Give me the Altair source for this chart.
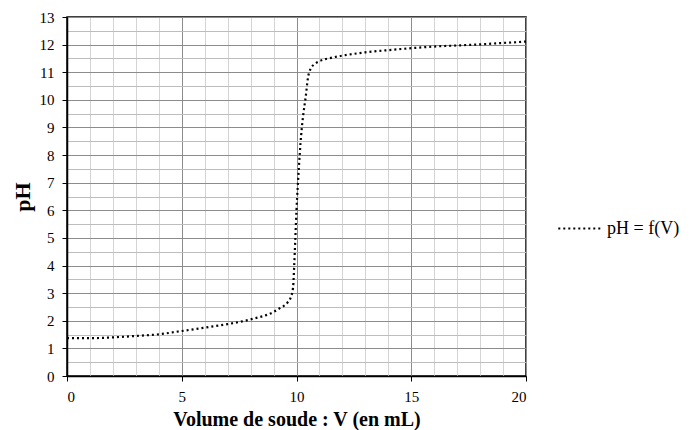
import altair as alt
import pandas as pd

volume = [0, 1, 2, 3, 4, 5, 6, 7, 8, 9, 9.3, 9.6, 9.75, 9.85, 9.9, 9.95, 10.0,
          10.1, 10.2, 10.3, 10.4, 10.5, 10.6, 10.8, 11, 11.5, 12, 13, 14, 15,
          16, 17, 18, 19, 20]
ph = [1.37, 1.37, 1.40, 1.45, 1.51, 1.63, 1.75, 1.88, 2.05, 2.32, 2.47, 2.65, 2.85,
      3.2, 4.0, 5.0, 6.0, 7.5, 8.7, 9.5, 10.1, 10.8, 11.1, 11.3, 11.4, 11.52,
      11.6, 11.72, 11.8, 11.87, 11.93, 11.97, 12.01, 12.06, 12.11]
series = ["pH = f(V)"] * len(volume)

x_ticks = list(range(0, 21))
y_ticks = [i * 0.5 for i in range(0, 27)]

df = pd.DataFrame({"V": volume, "pH": ph, "s": series})

FONT = "Liberation Serif"

chart = alt.Chart(df).mark_line(
    strokeDash=[2, 3], strokeWidth=2.2, interpolate="monotone"
).encode(
    x=alt.X("V:Q", scale=alt.Scale(domain=[0, 20], nice=False),
            axis=alt.Axis(values=x_ticks, title="Volume de soude : V (en mL)",
                          format="d",
                          labelExpr="datum.value % 5 === 0 ? datum.label : ''",
                          gridColor={"condition": {"test": "datum.value % 5 === 0", "value": "#8c8c8c"}, "value": "#d4d4d4"},
                          tickOpacity={"condition": {"test": "datum.value % 5 === 0", "value": 1}, "value": 0},
                          tickSize=5, labelPadding=8, titlePadding=5,
                          titleFontSize=20)),
    y=alt.Y("pH:Q", scale=alt.Scale(domain=[0, 13], nice=False),
            axis=alt.Axis(values=y_ticks, title="pH", format=".0f",
                          labelExpr="datum.value % 1 === 0 ? datum.label : ''",
                          gridColor={"condition": {"test": "datum.value % 1 === 0", "value": "#8c8c8c"}, "value": "#bdbdbd"},
                          tickOpacity={"condition": {"test": "datum.value % 1 === 0", "value": 1}, "value": 0},
                          tickSize=5, labelPadding=8, titlePadding=5,
                          titleFontSize=22)),
    color=alt.Color("s:N", scale=alt.Scale(range=["black"]),
                    legend=alt.Legend(title=None, orient="none", legendX=490, legendY=189,
                                      symbolType="stroke", symbolSize=1800,
                                      symbolStrokeWidth=2, symbolDash=[2, 3],
                                      labelFont=FONT, labelFontSize=18, labelColor="black",
                                      labelOffset=5)),
).properties(
    width=459, height=359,
    autosize=alt.AutoSizeParams(type="none"),
    padding={"left": 59, "top": 9, "right": 157, "bottom": 54},
).configure_view(
    stroke="black", strokeWidth=1.5
).configure_axis(
    labelFont=FONT, labelFontSize=15, labelColor="black",
    titleFont=FONT, titleFontWeight="bold", titleColor="black",
    domainColor="black", domainWidth=1.5, tickColor="black", gridOpacity=1,
)

chart.save("out.html", embed_options={"renderer": "svg", "actions": False})
